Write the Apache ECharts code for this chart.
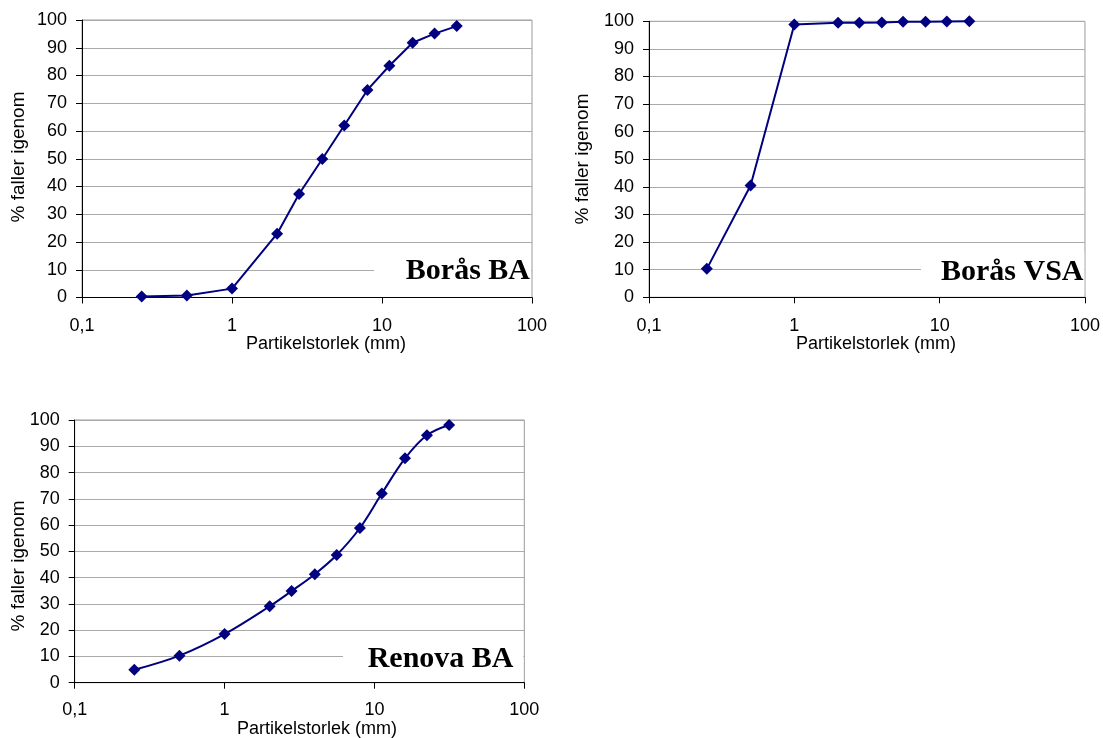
<!DOCTYPE html>
<html>
<head>
<meta charset="utf-8">
<script src="https://cdn.jsdelivr.net/npm/echarts@6/dist/echarts.min.js"></script>
<style>
  html, body { margin: 0; padding: 0; background: #ffffff; }
  #chart { width: 1103px; height: 738px; }
</style>
</head>
<body>
<div id="chart"></div>
<script>
// Sieve sizes (mm) and cumulative passing (%) for each material
const sizes = [0.25, 0.5, 1, 2, 2.8, 4, 5.6, 8, 11.2, 16, 22.4, 31.5];
const borasBA = [0.4, 0.7, 3.2, 23.0, 37.3, 49.9, 62.0, 74.8, 83.5, 91.8, 95.1, 97.8];

const sizesVSA = [0.25, 0.5, 1, 2, 2.8, 4, 5.6, 8, 11.2, 16];
const borasVSA = [10.3, 40.5, 98.8, 99.5, 99.5, 99.6, 99.8, 99.8, 99.9, 100];

const renovaBA = [4.9, 10.3, 18.5, 29.1, 34.9, 41.3, 48.6, 58.9, 72.0, 85.4, 94.2, 98.1];

const sampleNames = ['Borås BA', 'Borås VSA', 'Renova BA'];
const xTitle = 'Partikelstorlek (mm)';
const yTitle = '% faller igenom';

const pairs = (xs, ys) => xs.map((x, i) => [x, ys[i]]);

// Plot-area rectangles for the three panels
const panels = [
  { left: 82, top: 20, width: 450, height: 277.5, smooth: false, xs: sizes, ys: borasBA,
    xTitleX: 326, yTitleX: 19, yTitleY: 157, boxLeft: 374, textRight: 530, textBase: 281 },
  { left: 649, top: 21.3, width: 436.3, height: 276, smooth: false, xs: sizesVSA, ys: borasVSA,
    xTitleX: 876, yTitleX: 583, yTitleY: 159, boxLeft: 921, textRight: 1083.5, textBase: 282 },
  { left: 74.7, top: 420, width: 449.6, height: 262.7, smooth: true, xs: sizes, ys: renovaBA,
    xTitleX: 317, yTitleX: 19, yTitleY: 566, boxLeft: 343, textRight: 513.5, textBase: 669.5 }
];

const LINE = '#000080';
const sansFont = '"Liberation Sans", Arial, sans-serif';

const grids = [], xAxes = [], yAxes = [], series = [], graphics = [];

panels.forEach((p, i) => {
  grids.push({
    left: p.left, top: p.top, width: p.width, height: p.height,
    containLabel: false,
    show: true, backgroundColor: '#ffffff', borderColor: '#9a9a9a', borderWidth: 1
  });
  xAxes.push({
    gridIndex: i, type: 'log', logBase: 10, min: 0.1, max: 100,
    axisLine: { show: true, onZero: false, lineStyle: { color: '#000', width: 1 } },
    axisTick: { show: true, inside: false, length: 6, lineStyle: { color: '#000' } },
    minorTick: { show: false },
    splitLine: { show: false },
    axisLabel: {
      margin: i === 2 ? 18 : 20, color: '#000', fontSize: 18, fontFamily: sansFont,
      formatter: v => String(v).replace('.', ',')
    }
  });
  yAxes.push({
    gridIndex: i, type: 'value', min: 0, max: 100, interval: 10,
    axisLine: { show: true, lineStyle: { color: '#000', width: 1 } },
    axisTick: { show: true, inside: false, length: 6, lineStyle: { color: '#000' } },
    splitLine: { show: true, lineStyle: { color: '#aaaaaa', width: 1 } },
    axisLabel: { margin: 15, color: '#000', fontSize: 18, fontFamily: sansFont }
  });
  series.push({
    type: 'line', xAxisIndex: i, yAxisIndex: i,
    data: pairs(p.xs, p.ys),
    smooth: p.smooth ? 0.35 : false,
    symbol: 'diamond', symbolSize: 12, clip: false,
    lineStyle: { color: LINE, width: 2 },
    itemStyle: { color: LINE },
    z: 5
  });

  const plotBottom = p.top + p.height;

  // White box with the sample name in the lower right corner of the plot
  graphics.push({
    type: 'rect', z: 3,
    shape: { x: p.boxLeft, y: plotBottom - 45, width: p.left + p.width - 1 - p.boxLeft, height: 42 },
    style: { fill: '#ffffff' }
  });
  graphics.push({
    type: 'text', z: 4,
    style: {
      x: p.textRight, y: p.textBase - 10, text: sampleNames[i],
      font: 'bold 30px "Liberation Serif", "Times New Roman", serif',
      fill: '#000', align: 'right', verticalAlign: 'middle'
    }
  });
  // Axis titles
  graphics.push({
    type: 'text', z: 4,
    style: {
      x: p.xTitleX, y: plotBottom + 46.5, text: xTitle,
      font: '18px ' + sansFont, fill: '#000', align: 'center', verticalAlign: 'middle'
    }
  });
  graphics.push({
    type: 'text', z: 4, x: p.yTitleX, y: p.yTitleY, rotation: Math.PI / 2,
    style: {
      x: 0, y: 0, text: yTitle,
      font: '19px ' + sansFont, fill: '#000', align: 'center', verticalAlign: 'middle'
    }
  });
});

const chart = echarts.init(document.getElementById('chart'), null, { renderer: 'canvas' });
chart.setOption({
  animation: false,
  backgroundColor: '#ffffff',
  grid: grids,
  xAxis: xAxes,
  yAxis: yAxes,
  series: series,
  graphic: graphics
});
</script>
</body>
</html>
